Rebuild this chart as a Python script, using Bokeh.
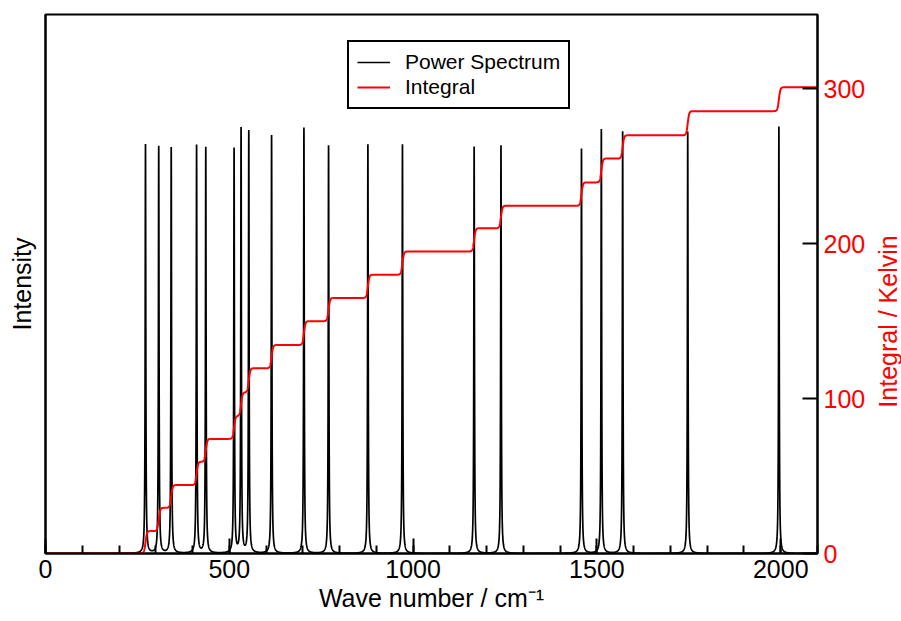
import numpy as np
from math import pi
from bokeh.plotting import figure
from bokeh.layouts import row
from bokeh.models import Range1d, LinearAxis, SingleIntervalTicker, FixedTicker, Label
from bokeh.embed import file_html
from bokeh.resources import INLINE

# ---- data ----
peak_positions = [272, 308, 342, 411, 436, 513, 532, 553, 615, 703,
                  770, 877, 971, 1166, 1239, 1458, 1512, 1570, 1747, 1995]
peak_heights = [0.759, 0.755, 0.753, 0.757, 0.753, 0.750, 0.787, 0.783, 0.776, 0.790,
                0.757, 0.759, 0.759, 0.755, 0.757, 0.751, 0.787, 0.783, 0.783, 0.792]
integral_levels = [14.5, 29.5, 44.2, 59.2, 74.0, 88.8, 104.0, 119.6, 134.6, 150.0,
                   165.0, 180.0, 195.0, 210.0, 224.5, 239.6, 255.0, 270.0, 285.6, 301.0]
x_tick_labels = ["0", "500", "1000", "1500", "2000"]
kelvin_ticks = [0, 100, 200, 300]

PEAK_HALF_WIDTH = 1.0    # line-shape style (cm^-1)
STEP_SCALE = 2.0         # integral step smoothness (cm^-1)
FONT = "Liberation Sans"

# ---- curves built from the peak table ----
x = np.arange(0.0, 2100.0 + 0.05, 0.1)
spectrum = np.zeros_like(x)
integral = np.zeros_like(x)
prev = 0.0
for pos, h, lev in zip(peak_positions, peak_heights, integral_levels):
    spectrum += h * PEAK_HALF_WIDTH ** 2 / ((x - pos) ** 2 + PEAK_HALF_WIDTH ** 2)
    integral += (lev - prev) / (1.0 + np.exp(-np.clip((x - pos) / STEP_SCALE, -60, 60)))
    prev = lev

p = figure(width=870, height=621, output_backend="svg", toolbar_location=None,
           x_range=Range1d(0, 2100), y_range=Range1d(0, 1),
           y_axis_location=None,
           min_border_left=45, min_border_right=53, min_border_top=14, min_border_bottom=68)
p.extra_y_ranges = {"kelvin": Range1d(0, 348)}
p.grid.visible = False
p.outline_line_color = "black"
p.outline_line_width = 2
p.outline_line_alpha = 1.0
p.background_fill_color = "white"
p.border_fill_color = "white"

p.line(x, spectrum, line_color="black", line_width=1.7, legend_label="Power Spectrum")
p.line(x, integral, line_color="red", line_width=2, y_range_name="kelvin", legend_label="Integral")

# bottom axis
xa = p.xaxis[0]
xa.ticker = SingleIntervalTicker(interval=500, num_minor_ticks=5)
xa.major_label_overrides = {int(v): v for v in x_tick_labels}
xa.axis_line_width = 2
xa.major_tick_in = 15
xa.major_tick_out = 0
xa.minor_tick_in = 8
xa.minor_tick_out = 0
xa.major_tick_line_width = 2
xa.minor_tick_line_width = 2
xa.major_label_standoff = 6
xa.major_label_text_font = FONT
xa.major_label_text_font_size = "25px"
xa.major_label_text_color = "black"
xa.axis_label = "Wave number / cm\u207b\u00b9"
xa.axis_label_standoff = 3
xa.axis_label_text_font = FONT
xa.axis_label_text_font_size = "25px"
xa.axis_label_text_font_style = "normal"
xa.axis_label_text_color = "black"

# left axis: label only
la = LinearAxis(ticker=FixedTicker(ticks=[], minor_ticks=[]))
la.axis_line_width = 2
la.major_tick_in = 0
la.major_tick_out = 0
la.minor_tick_in = 0
la.minor_tick_out = 0
la.major_label_standoff = 0
la.axis_label = "Intensity"
la.axis_label_standoff = 10
la.axis_label_text_font = FONT
la.axis_label_text_font_size = "25px"
la.axis_label_text_font_style = "normal"
la.axis_label_text_color = "black"
p.add_layout(la, "left")

# right axis: Kelvin
ra = LinearAxis(y_range_name="kelvin", ticker=FixedTicker(ticks=kelvin_ticks, minor_ticks=[]))
ra.axis_line_width = 2
ra.major_tick_in = 15
ra.major_tick_out = 0
ra.minor_tick_in = 0
ra.minor_tick_out = 0
ra.major_tick_line_width = 2
ra.major_label_standoff = 6
ra.major_label_text_font = FONT
ra.major_label_text_font_size = "25px"
ra.major_label_text_color = "red"
p.add_layout(ra, "right")

lg = p.legend[0]
lg.location = (302, 444)
lg.border_line_color = "black"
lg.border_line_width = 2
lg.border_line_alpha = 1.0
lg.padding = 8
lg.spacing = 1
lg.margin = 0
lg.glyph_width = 33
lg.glyph_height = 24
lg.label_height = 24
lg.label_standoff = 15
lg.label_text_font = FONT
lg.label_text_font_size = "21px"
lg.label_text_color = "black"
lg.background_fill_alpha = 1.0

# narrow strip on the right carrying the right-axis title (reads bottom to top)
p2 = figure(width=31, height=621, output_backend="svg", toolbar_location=None,
            x_range=Range1d(0, 1), y_range=Range1d(0, 1),
            x_axis_location=None, y_axis_location=None,
            min_border_left=0, min_border_right=0, min_border_top=14, min_border_bottom=68)
p2.grid.visible = False
p2.outline_line_color = None
p2.background_fill_color = "white"
p2.border_fill_color = "white"
p2.add_layout(Label(x=17, y=232, x_units="screen", y_units="screen",
                    text="Integral / Kelvin", angle=pi / 2, text_align="center",
                    text_baseline="middle", text_font=FONT, text_font_size="25px",
                    text_color="red"))

layout = row(p, p2, spacing=0)
open("out.html", "w").write(file_html(layout, INLINE))
